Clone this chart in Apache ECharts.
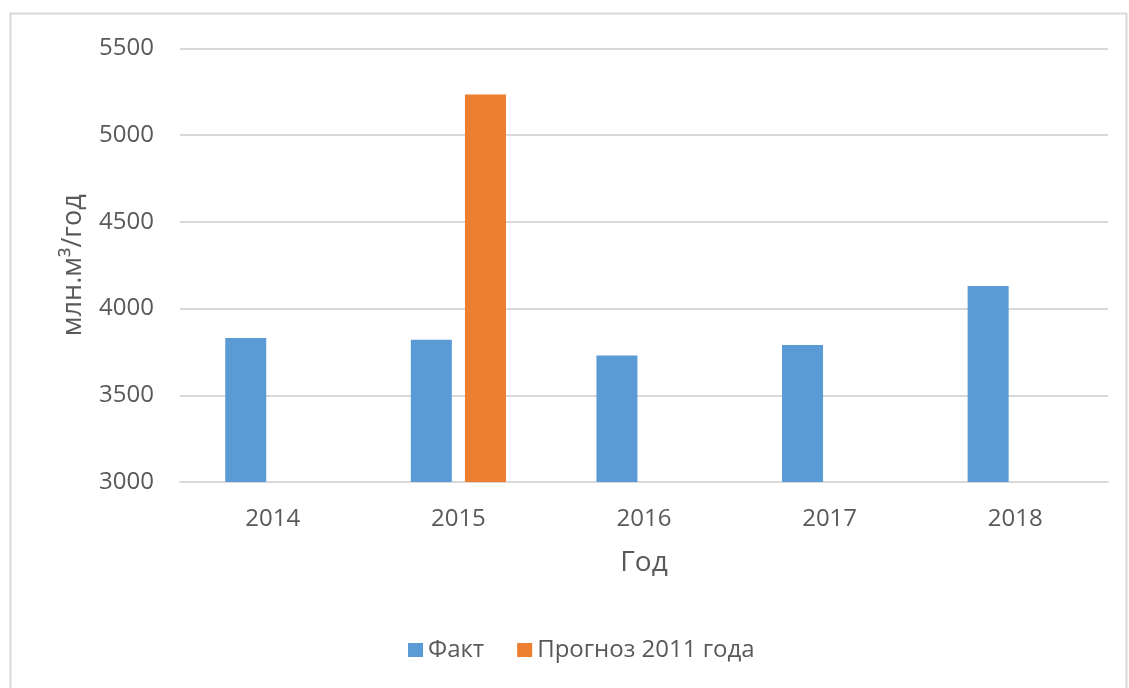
<!DOCTYPE html>
<html>
<head>
<meta charset="utf-8">
<script src="https://cdn.jsdelivr.net/npm/echarts@6/dist/echarts.min.js"></script>
<style>
  html, body { margin: 0; padding: 0; background: #fff; }
  #chart { width: 1129px; height: 688px; }
</style>
</head>
<body>
<div id="chart"></div>
<script>
// годы и значения, млн.м3/год
var years = ['2014', '2015', '2016', '2017', '2018'];
var fact = [3830, 3820, 3730, 3790, 4130];
var forecast = [null, 5235, null, null, null];
var seriesNames = ['Факт', 'Прогноз 2011 года'];

var font = '"Open Sans", "Noto Sans", sans-serif';
var textColor = '#595959';

var chart = echarts.init(document.getElementById('chart'));
var option = {
  animation: false,
  textStyle: { fontFamily: font },
  // рамка вокруг диаграммы
  graphic: [{
    type: 'rect',
    shape: { x: 10.5, y: 13.5, width: 1116, height: 700 },
    style: { fill: 'none', stroke: '#d9d9d9', lineWidth: 2 },
    silent: true
  }],
  grid: { left: 180, right: 21, top: 48.5, bottom: 206 },
  legend: {
    bottom: 21,
    left: 403,
    itemWidth: 15,
    itemHeight: 14,
    itemGap: 33,
    icon: 'rect',
    textStyle: { fontSize: 24, color: textColor, fontFamily: font },
    data: seriesNames
  },
  xAxis: {
    type: 'category',
    data: years,
    name: 'Год',
    nameLocation: 'middle',
    nameGap: 67,
    nameTextStyle: { fontSize: 28, color: textColor, verticalAlign: 'top' },
    axisLine: { lineStyle: { color: '#d9d9d9', width: 2 } },
    axisTick: { show: false },
    axisLabel: { fontSize: 24, color: textColor, margin: 25 }
  },
  yAxis: {
    type: 'value',
    min: 3000,
    max: 5500,
    interval: 500,
    name: 'млн.м³/год',
    nameLocation: 'middle',
    nameGap: 93,
    nameTextStyle: { fontSize: 27, color: textColor },
    axisLine: { show: false },
    axisTick: { show: false },
    axisLabel: { fontSize: 24, color: textColor, margin: 26, formatter: function (v) { return String(v); } },
    splitLine: { lineStyle: { color: '#d9d9d9', width: 2 } }
  },
  series: [
    {
      name: seriesNames[0],
      type: 'bar',
      data: fact,
      barWidth: 41,
      barGap: '32%',
      itemStyle: { color: '#5b9bd5' }
    },
    {
      name: seriesNames[1],
      type: 'bar',
      data: forecast,
      barWidth: 41,
      itemStyle: { color: '#ed7d31' }
    }
  ]
};
chart.setOption(option);
</script>
</body>
</html>
